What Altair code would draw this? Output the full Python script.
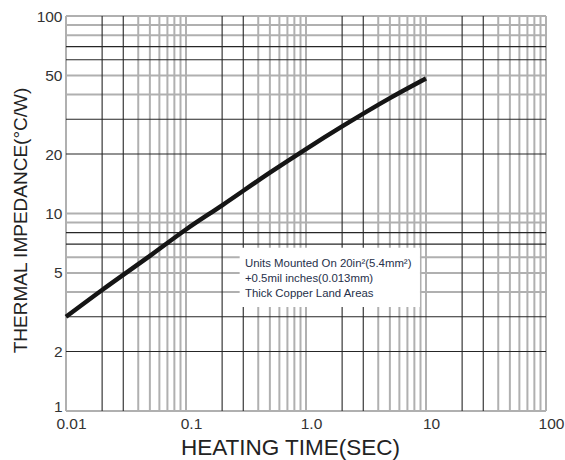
import altair as alt
import pandas as pd

# Curve (heating time in s, thermal impedance in °C/W)
time_s = [0.01, 0.02, 0.05, 0.1, 0.2, 0.5, 1, 2, 5, 10]
impedance = [3.0, 4.1, 6.1, 8.3, 11.0, 16.1, 21.2, 27.6, 38.4, 48.3]

# Grid lines (gray heavy and dark thin, as printed)
x_grid_gray = [0.01, 0.04, 0.05, 0.06, 0.07, 0.08, 0.09,
               0.1, 0.4, 0.5, 0.6, 0.7, 0.8, 0.9,
               1, 4, 5, 6, 7, 8, 9,
               10, 40, 50, 60, 70, 80, 90, 100]
x_grid_dark = [0.02, 0.03, 0.2, 0.3, 2, 3, 20, 30]
y_grid_gray = [1, 4, 5, 6, 9, 10, 40, 50, 80, 90, 100]
y_grid_dark = [2, 3, 7, 8, 20, 30, 60, 70]

x_ticks = [0.01, 0.1, 1, 10, 100]
y_ticks = [1, 2, 5, 10, 20, 50, 100]
x_domain = [0.01, 100]
y_domain = [1, 100]

x_title = "HEATING TIME(SEC)"
y_title = "THERMAL IMPEDANCE(°C/W)"

note_lines = ["Units Mounted On 20in²(5.4mm²)",
              "+0.5mil inches(0.013mm)",
              "Thick Copper Land Areas"]
note_box = {"x": [0.28], "x2": [8.9], "y": [3.36], "y2": [6.7]}
note_anchor = {"x": [0.31], "y": [5.36]}

W, H = 480, 395
xs = alt.Scale(type="log", domain=x_domain, nice=False)
ys = alt.Scale(type="log", domain=y_domain, nice=False)

label_font = "Liberation Sans"
title_font = "Liberation Sans"

x_axis = alt.Axis(values=x_ticks, grid=False, ticks=False, domain=False,
                  labelExpr="datum.value == 1 ? '1.0' : format(datum.value, '~g')",
                  labelFont=label_font, labelFontSize=15.5, labelFlush=False,
                  labelColor="#333333", labelPadding=5, labelOffset=5,
                  labelBaseline="top",
                  titleFont=title_font, titleFontSize=22.5,
                  titleFontWeight="normal", titleColor="#222222",
                  titleX=224, titleY=43, titleBaseline="alphabetic",
                  titleAlign="center")
y_axis = alt.Axis(values=y_ticks, grid=False, ticks=False, domain=False,
                  format="~g", labelFlush=False,
                  labelOffset={"condition": {"test": "datum.value === 1", "value": -5},
                               "value": 0},
                  labelFont=label_font, labelFontSize=15.5,
                  labelColor="#333333", labelPadding=4,
                  titleFont=title_font, titleFontSize=19,
                  titleFontWeight="normal", titleColor="#222222",
                  titleX=-46, titleY=204, titleBaseline="middle",
                  titleAlign="center")

def X(field):
    return alt.X(field, type="quantitative", scale=xs, axis=x_axis, title=x_title)

def Y(field):
    return alt.Y(field, type="quantitative", scale=ys, axis=y_axis, title=y_title)

gray = "#b0b0b0"
dark = "#262626"

def vrules(vals, color, width):
    df = pd.DataFrame({"x": vals, "y": y_domain[0], "y2": y_domain[1]})
    return alt.Chart(df).mark_rule(color=color, strokeWidth=width).encode(
        x=X("x"), y=Y("y"), y2="y2:Q")

def hrules(vals, color, width):
    df = pd.DataFrame({"y": vals, "x": x_domain[0], "x2": x_domain[1]})
    return alt.Chart(df).mark_rule(color=color, strokeWidth=width).encode(
        y=Y("y"), x=X("x"), x2="x2:Q")

box = alt.Chart(pd.DataFrame(note_box)).mark_rect(fill="white").encode(
    x=X("x"), x2="x2:Q", y=Y("y"), y2="y2:Q")

note = alt.Chart(pd.DataFrame(note_anchor)).mark_text(
    text=note_lines, align="left", baseline="alphabetic", lineHeight=15,
    font=label_font, fontSize=11.4, color="#26304a",
).encode(x=X("x"), y=Y("y"))

curve_df = pd.DataFrame({"x": time_s, "y": impedance})
curve = alt.Chart(curve_df).mark_line(
    color="#151515", strokeWidth=4.5, interpolate="monotone", strokeCap="butt"
).encode(x=X("x"), y=Y("y"))

chart = alt.layer(
    vrules(x_grid_gray, gray, 2),
    hrules(y_grid_gray, gray, 2),
    vrules(x_grid_dark, dark, 1.1),
    hrules(y_grid_dark, dark, 1.1),
    box,
    note,
    curve,
).properties(
    width=W, height=H,
    autosize=alt.AutoSizeParams(type="none"),
    padding={"left": 66, "top": 16, "right": 19, "bottom": 49},
    background="white",
).configure_view(stroke=None)

chart.save("out.html", embed_options={"renderer": "svg", "actions": False})
